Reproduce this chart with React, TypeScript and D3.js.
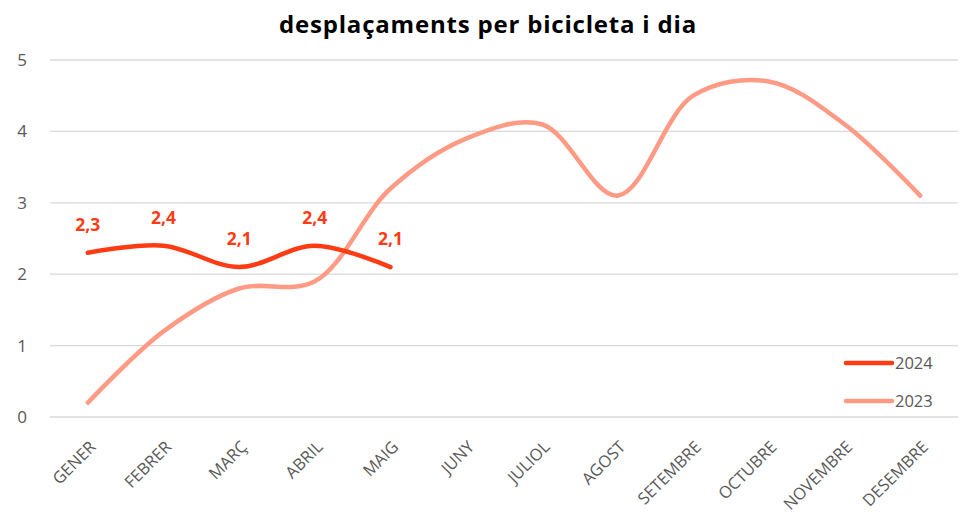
import React, { useRef, useEffect } from "react";
import * as d3 from "d3";

// months on the x axis
const months = [
  "GENER", "FEBRER", "MARÇ", "ABRIL", "MAIG", "JUNY",
  "JULIOL", "AGOST", "SETEMBRE", "OCTUBRE", "NOVEMBRE", "DESEMBRE",
];
// trips per bicycle and day
const values2024 = [2.3, 2.4, 2.1, 2.4, 2.1];
const values2023 = [0.2, 1.2, 1.8, 1.9, 3.2, 3.9, 4.1, 3.1, 4.5, 4.7, 4.1, 3.1];
const yTicks = [0, 1, 2, 3, 4, 5];
const seriesNames = ["2024", "2023"];

const W = 961;
const H = 519;
const margin = { top: 60, right: 3, bottom: 102, left: 50 };
const c2024 = "#ff3b14";
const c2023 = "#ff9a85";
const gray = "#595959";

export default function App() {
  const ref = useRef<SVGSVGElement>(null);

  useEffect(() => {
    const svg = d3.select(ref.current);
    svg.selectAll("*").remove();

    const x = d3.scaleBand().domain(months).range([margin.left, W - margin.right]);
    const y = d3.scaleLinear().domain([0, 5]).range([H - margin.bottom, margin.top]);
    const cx = (i: number) => (x(months[i]) as number) + x.bandwidth() / 2;

    svg.append("text")
      .attr("x", 488).attr("y", 33)
      .attr("text-anchor", "middle")
      .attr("font-family", "'Open Sans', sans-serif")
      .attr("font-weight", "bold")
      .attr("font-size", 24)
      .attr("letter-spacing", 0.8)
      .attr("fill", "#000")
      .text("desplaçaments per bicicleta i dia");

    // grid + y labels
    svg.append("g").selectAll("line").data(yTicks).join("line")
      .attr("x1", margin.left).attr("x2", W - margin.right)
      .attr("y1", d => y(d)).attr("y2", d => y(d))
      .attr("stroke", "#d9d9d9").attr("stroke-width", 1.3);

    svg.append("g").selectAll("text").data(yTicks).join("text")
      .attr("x", 22).attr("y", d => y(d) + 6)
      .attr("text-anchor", "middle")
      .attr("font-family", "'Open Sans', sans-serif")
      .attr("font-size", 17).attr("fill", gray)
      .text(d => d);

    // x labels rotated
    svg.append("g").selectAll("text").data(months).join("text")
      .attr("transform", (d, i) => `translate(${cx(i) + 9},${y(0) + 31}) rotate(-45)`)
      .attr("text-anchor", "end")
      .attr("font-family", "'Open Sans', sans-serif")
      .attr("font-size", 16.5).attr("fill", gray)
      .text(d => d);

    const line = d3.line<number>()
      .x((d, i) => cx(i))
      .y(d => y(d))
      .curve(d3.curveCatmullRom.alpha(0.5));

    svg.append("path").datum(values2023)
      .attr("d", line)
      .attr("fill", "none").attr("stroke", c2023)
      .attr("stroke-width", 4.5).attr("stroke-linecap", "round");

    svg.append("path").datum(values2024)
      .attr("d", line)
      .attr("fill", "none").attr("stroke", c2024)
      .attr("stroke-width", 4.5).attr("stroke-linecap", "round");

    svg.append("g").selectAll("text").data(values2024).join("text")
      .attr("x", (d, i) => cx(i))
      .attr("y", d => y(d) - 22)
      .attr("text-anchor", "middle")
      .attr("font-family", "'Open Sans', sans-serif")
      .attr("font-weight", "bold")
      .attr("font-size", 17.5).attr("fill", c2024)
      .text(d => String(d).replace(".", ","));

    // legend
    const leg = svg.append("g").selectAll("g").data(seriesNames).join("g")
      .attr("transform", (d, i) => `translate(846,${363 + i * 38})`);
    leg.append("line")
      .attr("x1", 0).attr("x2", 46)
      .attr("stroke", (d, i) => (i === 0 ? c2024 : c2023))
      .attr("stroke-width", 4.5).attr("stroke-linecap", "round");
    leg.append("text")
      .attr("x", 49).attr("y", 6)
      .attr("font-family", "'Open Sans', sans-serif")
      .attr("font-size", 16.5).attr("fill", gray)
      .text(d => d);
  }, []);

  return <svg ref={ref} width={W} height={H} style={{ position: "absolute", left: 0, top: 0, background: "#fff" }} />;
}
